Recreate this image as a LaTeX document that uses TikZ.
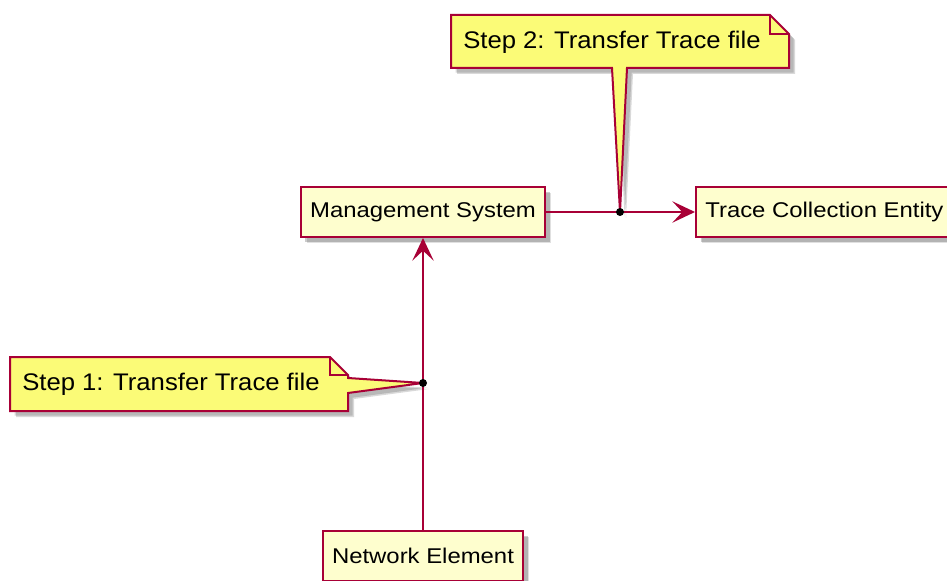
\documentclass[tikz,border=0pt]{standalone}
\usepackage{fontspec}
\setmainfont{Liberation Sans}
\newfontfamily\boxfont{Liberation Sans}[FakeStretch=1.12]
\newfontfamily\notefont{Liberation Sans}[FakeStretch=1.07]
\usetikzlibrary{arrows.meta,shadows}
\definecolor{pborder}{HTML}{A80036}
\definecolor{pfill}{HTML}{FEFECE}
\definecolor{nfill}{HTML}{FBFB77}
\tikzset{
  comp/.style={draw=pborder, fill=pfill, line width=1.5pt,
    minimum height=37.5pt, inner xsep=7pt, inner ysep=0pt,
    font=\boxfont\fontsize{16pt}{19pt}\selectfont,
    drop shadow={shadow xshift=4.5pt, shadow yshift=-4.5pt, fill=black, opacity=0.12},
    drop shadow={shadow xshift=3.5pt, shadow yshift=-3.5pt, fill=black, opacity=0.2}},
  notetext/.style={anchor=west, inner sep=0pt, font=\notefont\fontsize{18pt}{21pt}\selectfont},
  notebody/.style={draw=pborder, fill=nfill, line width=1.5pt, line join=miter},
  noteshade/.style={fill=black, opacity=0.15},
  conn/.style={draw=pborder, line width=1.5pt,
    -{Stealth[length=17pt, width=16pt, inset=7.5pt]}},
  dotmark/.style={fill=black}
}
\begin{document}
\begin{tikzpicture}[x=0.75pt, y=-0.75pt]
\useasboundingbox (0,0) rectangle (947,581);
\fill[white] (0,0) rectangle (947,581);

% notes: geometry
\def\noteA{(10,357) -- (330,357) -- (348,375) -- (348,378) -- (423,383) -- (348,393) -- (348,411) -- (10,411) -- cycle}
\def\noteB{(451,15) -- (770,15) -- (789,34) -- (789,68) -- (627,68) -- (620,212) -- (612,68) -- (451,68) -- cycle}

% shadows of notes
\begin{scope}[xshift=4.5pt, yshift=-4.5pt]
  \fill[noteshade] \noteA;
  \fill[noteshade] \noteB;
\end{scope}
\begin{scope}[xshift=3.5pt, yshift=-3.5pt]
  \fill[noteshade] \noteA;
  \fill[noteshade] \noteB;
\end{scope}

% components
\node[comp] (ms) at (423,212) {Management System};
\node[comp, anchor=west] (tce) at (695,212) {Trace Collection Entity};
\node[comp] (ne) at (423,556) {Network Element};

\coordinate (d1) at (423,383);
\coordinate (d2) at (620,212);

% connectors
\draw[conn] (ne.north) -- (ms.south);
\draw[conn] (ms.east) -- (tce.west);

% notes
\path[notebody] \noteA;
\draw[pborder, line width=1.5pt, line join=miter] (330,357) -- (330,375) -- (348,375);
\node[notetext] (n1) at (22,384) {Step 1: Transfer Trace file};

\path[notebody] \noteB;
\draw[pborder, line width=1.5pt, line join=miter] (770,15) -- (770,34) -- (789,34);
\node[notetext] (n2) at (463,42) {Step 2: Transfer Trace file};

% dots
\fill[dotmark] (d1) circle (3pt);
\fill[dotmark] (d2) circle (3pt);
\end{tikzpicture}
\end{document}
